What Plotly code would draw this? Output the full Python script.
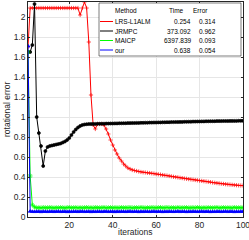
import plotly.graph_objects as go

iterations = list(range(1, 101))

lrs_l1alm = [1.70, 2.09, 2.09, 2.09, 2.09, 2.09, 2.09, 2.09, 2.09, 2.09,
             2.09, 2.09, 2.09, 2.09, 2.09, 2.09, 2.09, 2.09, 2.09, 2.09,
             2.09, 2.09, 2.09, 2.09, 2.02, 2.09, 2.15, 2.09, 1.75, 1.22,
             0.92, 0.88, 0.93, 0.93, 0.93, 0.92, 0.88, 0.83, 0.77, 0.72,
             0.67, 0.63, 0.59, 0.56, 0.53, 0.51, 0.49, 0.48, 0.47, 0.465,
             0.46, 0.455, 0.45, 0.447, 0.445, 0.442, 0.44, 0.437, 0.434, 0.43,
             0.427, 0.424, 0.42, 0.417, 0.414, 0.41, 0.406, 0.402, 0.399, 0.396,
             0.392, 0.389, 0.385, 0.382, 0.379, 0.376, 0.373, 0.37, 0.367, 0.364,
             0.361, 0.358, 0.355, 0.352, 0.349, 0.345, 0.342, 0.339, 0.336, 0.333,
             0.331, 0.328, 0.326, 0.324, 0.322, 0.32, 0.318, 0.316, 0.315, 0.314]

jrmpc = [1.65, 1.65, 1.72, 2.13, 1.00, 0.84, 0.71, 0.51, 0.66, 0.70,
         0.71, 0.715, 0.72, 0.725, 0.73, 0.735, 0.745, 0.755, 0.77, 0.79,
         0.82, 0.85, 0.875, 0.895, 0.91, 0.92, 0.925, 0.928, 0.93, 0.93,
         0.931, 0.931, 0.932, 0.932, 0.933, 0.933, 0.934, 0.934, 0.935, 0.935,
         0.936, 0.936, 0.937, 0.937, 0.938, 0.938, 0.939, 0.939, 0.940, 0.940,
         0.941, 0.941, 0.942, 0.942, 0.943, 0.943, 0.944, 0.944, 0.945, 0.945,
         0.946, 0.946, 0.947, 0.947, 0.948, 0.948, 0.949, 0.949, 0.950, 0.950,
         0.951, 0.951, 0.952, 0.952, 0.953, 0.953, 0.954, 0.954, 0.955, 0.955,
         0.956, 0.956, 0.957, 0.957, 0.958, 0.958, 0.958, 0.959, 0.959, 0.959,
         0.960, 0.960, 0.960, 0.961, 0.961, 0.961, 0.961, 0.962, 0.962, 0.962]

maicp = [1.65, 0.41, 0.12, 0.10, 0.092, 0.094, 0.091, 0.095, 0.093, 0.092,
         0.096, 0.093, 0.091, 0.094, 0.092, 0.095, 0.093, 0.091, 0.094, 0.096,
         0.092, 0.093, 0.095, 0.091, 0.094, 0.092, 0.093, 0.096, 0.092, 0.094,
         0.091, 0.095, 0.093, 0.092, 0.094, 0.096, 0.091, 0.093, 0.095, 0.092,
         0.094, 0.093, 0.091, 0.096, 0.092, 0.094, 0.093, 0.095, 0.091, 0.093,
         0.094, 0.092, 0.096, 0.093, 0.091, 0.094, 0.092, 0.095, 0.093, 0.092,
         0.094, 0.096, 0.091, 0.093, 0.095, 0.092, 0.094, 0.093, 0.091, 0.096,
         0.092, 0.094, 0.093, 0.095, 0.091, 0.093, 0.094, 0.092, 0.096, 0.093,
         0.091, 0.094, 0.092, 0.095, 0.093, 0.092, 0.094, 0.096, 0.091, 0.093,
         0.095, 0.092, 0.094, 0.093, 0.091, 0.096, 0.092, 0.094, 0.093, 0.093]

ours = [1.71, 0.056, 0.054, 0.053, 0.055, 0.054, 0.052, 0.055, 0.054, 0.053,
        0.055, 0.054, 0.053, 0.054, 0.056, 0.053, 0.054, 0.055, 0.052, 0.054,
        0.053, 0.055, 0.054, 0.053, 0.054, 0.056, 0.053, 0.054, 0.055, 0.052,
        0.054, 0.053, 0.055, 0.054, 0.053, 0.054, 0.056, 0.053, 0.054, 0.055,
        0.052, 0.054, 0.053, 0.055, 0.054, 0.053, 0.054, 0.056, 0.053, 0.054,
        0.055, 0.052, 0.054, 0.053, 0.055, 0.054, 0.053, 0.054, 0.056, 0.053,
        0.054, 0.055, 0.052, 0.054, 0.053, 0.055, 0.054, 0.053, 0.054, 0.056,
        0.053, 0.054, 0.055, 0.052, 0.054, 0.053, 0.055, 0.054, 0.053, 0.054,
        0.056, 0.053, 0.054, 0.055, 0.052, 0.054, 0.053, 0.055, 0.054, 0.053,
        0.054, 0.056, 0.053, 0.054, 0.055, 0.052, 0.054, 0.053, 0.055, 0.054]

methods = ["LRS-L1ALM", "JRMPC", "MAICP", "our"]
times = ["0.254", "373.092", "6397.839", "0.638"]
errors = ["0.314", "0.962", "0.093", "0.054"]
header = ["Method", "Time", "Error"]
x_title = "iterations"
y_title = "rotational error"

colors = ["#ff0000", "#000000", "#00ff00", "#0000ff"]
symbols = ["cross-thin", "circle", "asterisk", "triangle-up"]
msizes = [3, 3, 4, 3.5]
series = [lrs_l1alm, jrmpc, maicp, ours]

W, H = 249, 240
ML, MR, MT, MB = 28, 6, 2, 23
PW, PH = W - ML - MR, H - MT - MB
FAM = "Liberation Sans, Arial, sans-serif"

def px(x):
    return (x - ML) / PW

def py(y):
    return (H - MB - y) / PH

fig = go.Figure()
for vals, c, s, ms, name in zip(series, colors, symbols, msizes, methods):
    fig.add_trace(go.Scatter(
        x=iterations, y=vals, mode="lines+markers", name=name,
        line=dict(color=c, width=1),
        marker=dict(symbol=s, size=ms, color=c, line=dict(color=c, width=0.7)),
        showlegend=False, cliponaxis=True))

# legend box
font = dict(family=FAM, size=6.5, color="#000000")
shapes = [dict(type="rect", xref="paper", yref="paper",
               x0=px(99), x1=px(241), y0=py(56), y1=py(3),
               line=dict(color="#262626", width=0.6), fillcolor="white", layer="above")]
annotations = []
row_y = [21.5, 31, 40.5, 50]
annotations.append(dict(x=px(113), y=py(11), text=header[0], showarrow=False,
                        xref="paper", yref="paper", xanchor="left", yanchor="middle", font=font))
annotations.append(dict(x=px(167), y=py(11), text=header[1], showarrow=False,
                        xref="paper", yref="paper", xanchor="left", yanchor="middle", font=font))
annotations.append(dict(x=px(191), y=py(11), text=header[2], showarrow=False,
                        xref="paper", yref="paper", xanchor="left", yanchor="middle", font=font))
for i, ry in enumerate(row_y):
    shapes.append(dict(type="line", xref="paper", yref="paper",
                       x0=px(100), x1=px(113), y0=py(ry), y1=py(ry),
                       line=dict(color=colors[i], width=1), layer="above"))
    annotations.append(dict(x=px(113), y=py(ry), text=methods[i], showarrow=False,
                            xref="paper", yref="paper", xanchor="left", yanchor="middle", font=font))
    annotations.append(dict(x=px(193), y=py(ry), text=times[i], showarrow=False,
                            xref="paper", yref="paper", xanchor="right", yanchor="middle", font=font))
    annotations.append(dict(x=px(218), y=py(ry), text=errors[i], showarrow=False,
                            xref="paper", yref="paper", xanchor="right", yanchor="middle", font=font))
    fig.add_trace(go.Scatter(
        x=[px(106.5)], y=[py(ry)], xaxis="x2", yaxis="y2", mode="markers",
        marker=dict(symbol=symbols[i], size=msizes[i], color=colors[i],
                    line=dict(color=colors[i], width=0.7)),
        showlegend=False, hoverinfo="skip", cliponaxis=False))

# axis titles
title_font = dict(family=FAM, size=8.5, color="#262626")
annotations.append(dict(x=px(135.5), y=py(232), text=x_title, showarrow=False,
                        xref="paper", yref="paper", xanchor="center", yanchor="middle",
                        font=title_font))
annotations.append(dict(x=px(7), y=py(110), text=y_title, showarrow=False, textangle=-90,
                        xref="paper", yref="paper", xanchor="center", yanchor="middle",
                        font=title_font))

axis_common = dict(showline=True, linecolor="#262626", linewidth=0.6, mirror="ticks",
                   ticks="inside", ticklen=2.5, tickcolor="#262626", tickwidth=0.6,
                   showgrid=True, gridcolor="#e6e6e6", gridwidth=0.6, zeroline=False,
                   ticklabeloverflow="allow",
                   tickfont=dict(family=FAM, size=8.5, color="#262626"))

fig.update_layout(
    width=W, height=H, autosize=False,
    margin=dict(l=ML, r=MR, t=MT, b=MB, pad=0),
    paper_bgcolor="white", plot_bgcolor="white",
    showlegend=False,
    xaxis=dict(range=[1, 100], tickvals=[20, 40, 60, 80, 100], automargin=False, **axis_common),
    yaxis=dict(range=[0, 2.15], tickvals=[0, 0.2, 0.4, 0.6, 0.8, 1, 1.2, 1.4, 1.6, 1.8, 2],
               automargin=False, **axis_common),
    xaxis2=dict(range=[0, 1], overlaying="x", visible=False, domain=[0, 1]),
    yaxis2=dict(range=[0, 1], overlaying="y", visible=False, domain=[0, 1]),
    shapes=shapes,
    annotations=annotations,
)

fig.write_html("out.html", config={"displayModeBar": False},
               post_script="document.body.style.margin='0';document.body.style.padding='0';"
                           "document.documentElement.style.overflow='hidden';")
